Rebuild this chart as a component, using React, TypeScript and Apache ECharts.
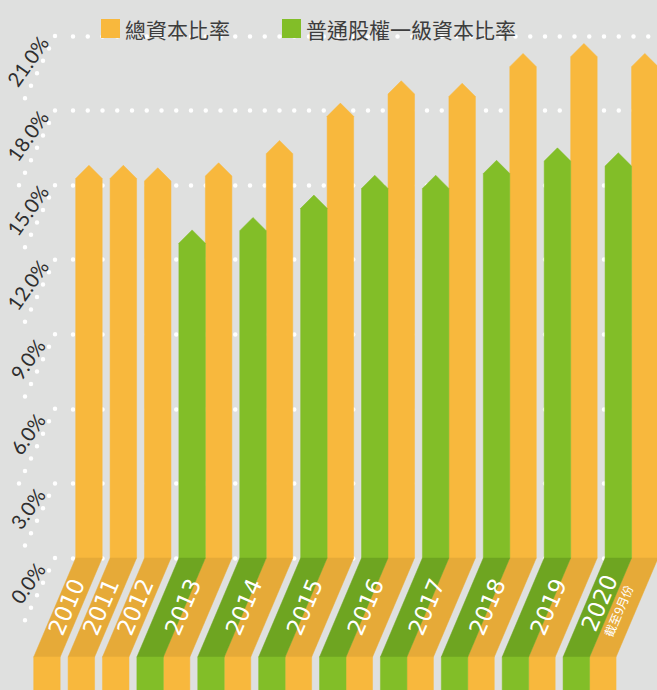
import React, { useEffect, useRef } from 'react';
import * as echarts from 'echarts';

// ---- data ----
const years = ['2010', '2011', '2012', '2013', '2014', '2015', '2016', '2017', '2018', '2019', '2020'];
const yearNotes = ['', '', '', '', '', '', '', '', '', '', '截至9月份'];
const totalRatio = [15.8, 15.8, 15.7, 15.9, 16.8, 18.3, 19.2, 19.1, 20.3, 20.7, 20.3];
const cet1Ratio: (number | null)[] = [null, null, null, 13.2, 13.7, 14.6, 15.4, 15.4, 16.0, 16.5, 16.3];
const yTicks = [0, 3, 6, 9, 12, 15, 18, 21];
const seriesNames = ['總資本比率', '普通股權一級資本比率'];

// ---- style ----
const BG = '#DFE0DF';
const ORANGE = '#F8B83D';
const ORANGE_DARK = '#E6AA38';
const GREEN = '#82BE28';
const GREEN_DARK = '#6EA521';
const GAP = 0.298; // gap between year groups, in bar widths
const SHIFT = 42; // horizontal slant of the base band (px)
const BAND = 99; // height of the base band (px)

// positions of bars along a value x axis (unit = one bar width)
const greenData: number[][] = [];
const orangeData: number[][] = [];
const labelData: number[][] = [];
(() => {
  let pos = 0;
  years.forEach((_, i) => {
    const start = pos;
    let n = 0;
    const c = cet1Ratio[i];
    if (c != null) {
      greenData.push([pos, c, i]);
      pos += 1;
      n++;
    }
    orangeData.push([pos, totalRatio[i], i]);
    pos += 1;
    n++;
    labelData.push([start + n / 2, 0, i]);
    pos += GAP;
  });
})();

const makeBarRender = (bright: string, dark: string) => (params: any, api: any) => {
  const x = api.value(0);
  const v = api.value(1);
  const p0 = api.coord([x, 0]);
  const x0 = p0[0];
  const y0 = p0[1];
  const x1 = api.coord([x + 1, 0])[0];
  const yTop = api.coord([x, v])[1];
  const half = (x1 - x0) / 2;
  return {
    type: 'group',
    children: [
      {
        type: 'polygon',
        shape: { points: [[x0, y0], [x0, yTop + half], [x0 + half, yTop], [x1, yTop + half], [x1, y0]] },
        style: { fill: bright, stroke: bright, lineWidth: 0.5 },
      },
      {
        type: 'polygon',
        shape: { points: [[x0, y0], [x1, y0], [x1 - SHIFT, y0 + BAND], [x0 - SHIFT, y0 + BAND]] },
        style: { fill: dark, stroke: dark, lineWidth: 0.5 },
      },
      {
        type: 'rect',
        shape: { x: x0 - SHIFT, y: y0 + BAND, width: x1 - x0, height: 60 },
        style: { fill: bright, stroke: bright, lineWidth: 0.5 },
      },
    ],
  };
};

const yearLabelRender = (params: any, api: any) => {
  const cx = api.value(0);
  const i = api.value(2);
  const p = api.coord([cx, 0]);
  const tx = p[0] - SHIFT / 2;
  const ty = p[1] + BAND / 2;
  const rot = Math.atan2(BAND, SHIFT);
  const px = Math.sin(rot);
  const py = Math.cos(rot);
  const note = yearNotes[i];
  const children: any[] = [];
  const mainOff = note ? -12 : -1.5;
  children.push({
    type: 'text',
    x: tx + px * mainOff,
    y: ty + py * mainOff,
    rotation: rot,
    style: {
      text: years[i],
      fill: '#ffffff',
      fontSize: 23,
      fontFamily: 'DejaVu Sans',
      align: 'center',
      verticalAlign: 'middle',
    },
  });
  if (note) {
    const off = 8;
    children.push({
      type: 'text',
      x: tx + px * off,
      y: ty + py * off,
      rotation: rot,
      style: {
        text: note,
        fill: '#ffffff',
        fontSize: 12,
        fontFamily: 'Noto Sans CJK TC',
        align: 'center',
        verticalAlign: 'middle',
      },
    });
  }
  return { type: 'group', children };
};

const yLabelRender = (params: any, api: any) => {
  const v = api.value(1);
  const y = api.coord([0, v])[1];
  const step = api.coord([0, 0])[1] - api.coord([0, yTicks[1] - yTicks[0]])[1];
  const gl = params.coordSys.x;
  const xa = gl - 18;
  const xb = gl - 54;
  const len = Math.sqrt((xa - xb) * (xa - xb) + step * step);
  return {
    type: 'group',
    children: [
      {
        type: 'line',
        shape: { x1: xa, y1: y, x2: xb, y2: y + step },
        style: { stroke: '#ffffff', lineWidth: 4.5, lineDash: [0, len / 6], lineCap: 'round' },
      },
      {
        type: 'text',
        x: gl - 45.5,
        y: y + 25,
        rotation: (55 * Math.PI) / 180,
        style: {
          text: v.toFixed(1) + '%',
          fill: '#2e2e2e',
          fontSize: 20,
          fontFamily: 'Lato',
          align: 'center',
          verticalAlign: 'middle',
        },
      },
    ],
  };
};

export default function App() {
  const ref = useRef<HTMLDivElement>(null);
  useEffect(() => {
    if (!ref.current) return;
    const chart = echarts.init(ref.current, undefined, { renderer: 'svg' });
    chart.setOption({
      animation: false,
      backgroundColor: BG,
      legend: {
        left: 96,
        top: 13,
        itemWidth: 19,
        itemHeight: 19,
        itemGap: 52,
        icon: 'rect',
        selectedMode: false,
        data: seriesNames,
        textStyle: {
          fontSize: 21,
          color: '#3d3d3d',
          fontFamily: 'Noto Sans CJK TC',
        },
      },
      grid: { left: 73, right: 0, top: 36, bottom: 132 },
      xAxis: {
        type: 'value',
        min: -0.102,
        max: 21.94,
        show: false,
      },
      yAxis: {
        type: 'value',
        min: 0,
        max: 21,
        interval: 3,
        axisLine: { show: false },
        axisTick: { show: false },
        axisLabel: { show: false },
        splitLine: {
          show: true,
          lineStyle: { color: '#ffffff', width: 4.5, type: [0, 14.75], cap: 'round' },
        },
      },
      series: [
        {
          name: seriesNames[0],
          type: 'custom',
          clip: false,
          itemStyle: { color: ORANGE },
          renderItem: makeBarRender(ORANGE, ORANGE_DARK),
          encode: { x: 0, y: 1 },
          data: orangeData,
          z: 3,
        },
        {
          name: seriesNames[1],
          type: 'custom',
          clip: false,
          itemStyle: { color: GREEN },
          renderItem: makeBarRender(GREEN, GREEN_DARK),
          encode: { x: 0, y: 1 },
          data: greenData,
          z: 3,
        },
        {
          name: 'yLabels',
          type: 'custom',
          clip: false,
          silent: true,
          renderItem: yLabelRender,
          encode: { x: 0, y: 1 },
          data: yTicks.map((t) => [0, t]),
          z: 2,
        },
        {
          name: 'years',
          type: 'custom',
          clip: false,
          silent: true,
          renderItem: yearLabelRender,
          encode: { x: 0, y: 1 },
          data: labelData,
          z: 5,
        },
      ],
    });
    return () => chart.dispose();
  }, []);
  return (
    <div
      ref={ref}
      style={{ position: 'absolute', left: 0, top: 0, width: 657, height: 690 }}
    />
  );
}
